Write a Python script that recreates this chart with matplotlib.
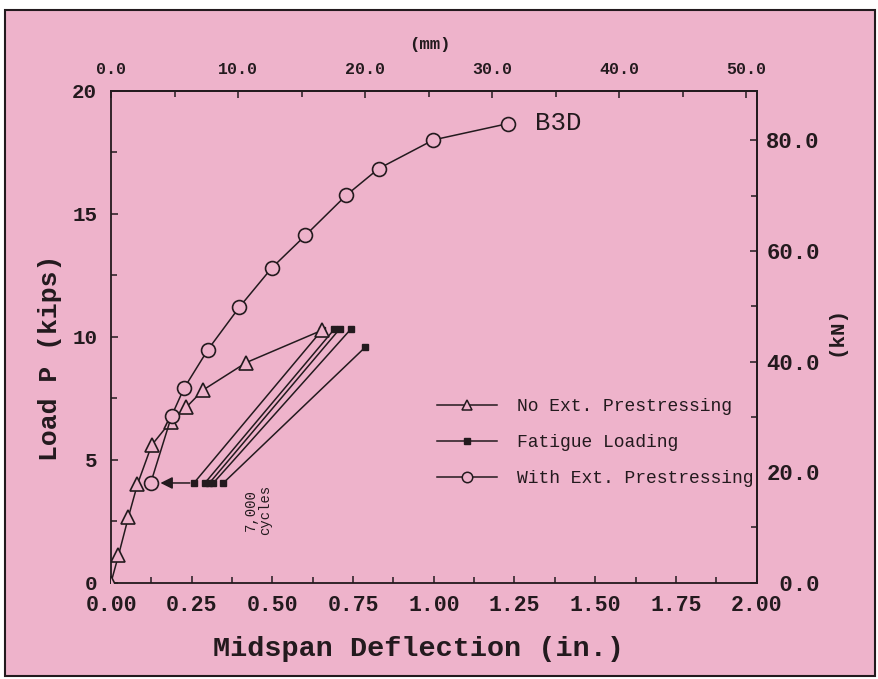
import matplotlib
matplotlib.use('Agg')
import matplotlib.pyplot as plt
from matplotlib.patches import Rectangle
from matplotlib.lines import Line2D
from matplotlib.ticker import MultipleLocator, FixedLocator, FormatStrFormatter

# data (in., kips)
no_ext_x = [0.0, 0.023, 0.054, 0.082, 0.126, 0.185, 0.233, 0.286, 0.419, 0.653]
no_ext_y = [0.0, 1.10, 2.67, 4.00, 5.59, 6.55, 7.13, 7.84, 8.95, 10.26]

with_ext_x = [0.123, 0.188, 0.226, 0.300, 0.398, 0.498, 0.602, 0.729, 0.829, 0.999, 1.229]
with_ext_y = [4.05, 6.79, 7.90, 9.47, 11.21, 12.80, 14.12, 15.76, 16.84, 18.01, 18.67]

fatigue_x_start = [0.257, 0.291, 0.305, 0.317, 0.348]
fatigue_y_start = [4.05, 4.05, 4.05, 4.05, 4.05]
fatigue_x_end = [0.653, 0.692, 0.708, 0.743, 0.788]
fatigue_y_end = [10.26, 10.31, 10.31, 10.31, 9.58]

mm_ticks = [0, 10, 20, 30, 40, 50]
mm_minor = [5, 15, 25, 35, 45]
kn_ticks = [0, 20, 40, 60, 80]
kn_minor = [10, 30, 50, 70]

KIP_TO_KN = 4.448
IN_TO_MM = 25.4

plt.rcParams['font.family'] = ['Liberation Mono', 'DejaVu Sans Mono']
plt.rcParams['font.weight'] = 'bold'
plt.rcParams['axes.labelweight'] = 'bold'

bg = '#eeb3cb'
ink = '#231a1e'

fig = plt.figure(figsize=(8.79, 6.79), dpi=100, facecolor='white')
fig.patches.append(Rectangle((0.006, 0.004), 0.99, 0.981, transform=fig.transFigure,
                             facecolor=bg, edgecolor=ink, lw=1.5, zorder=-10))
ax = fig.add_axes([0.1263, 0.1421, 0.7344, 0.7239])
ax.set_facecolor(bg)

ax.plot(no_ext_x, no_ext_y, '-^', color=ink, mfc=bg, mec=ink, ms=10, mew=1.2, lw=1.1, zorder=4)
for i in range(len(fatigue_x_start)):
    ax.plot([fatigue_x_start[i], fatigue_x_end[i]], [fatigue_y_start[i], fatigue_y_end[i]],
            '-s', color=ink, ms=4.5, lw=1.1, zorder=3)
ax.plot(with_ext_x, with_ext_y, '-o', color=ink, mfc=bg, mec=ink, ms=10, mew=1.2, lw=1.1, zorder=4)

ax.annotate('', xy=(with_ext_x[0], with_ext_y[0]), xytext=(fatigue_x_start[0], fatigue_y_start[0]),
            arrowprops=dict(arrowstyle='-|>', color=ink, lw=1.1, shrinkA=3, shrinkB=7,
                            mutation_scale=18))

ax.text(1.386, 18.69, 'B3D', fontsize=18.5, color=ink, ha='center', va='center', weight='normal')
ax.text(0.456, 2.94, '7,000\ncycles', fontsize=10, color=ink, ha='center', va='center',
        rotation=90, weight='normal', linespacing=1.0)

ax.set_xlim(0, 2.0)
ax.set_ylim(0, 20)
ax.xaxis.set_major_locator(MultipleLocator(0.25))
ax.xaxis.set_minor_locator(MultipleLocator(0.125))
ax.xaxis.set_major_formatter(FormatStrFormatter('%.2f'))
ax.yaxis.set_major_locator(MultipleLocator(5))
ax.yaxis.set_minor_locator(MultipleLocator(2.5))
ax.tick_params(which='both', direction='in', top=False, right=False, color=ink, width=1.1)
ax.tick_params(which='major', length=5)
ax.tick_params(which='minor', length=4)
ax.tick_params(axis='x', labelsize=15.5, pad=9, labelcolor=ink)
ax.tick_params(axis='y', labelsize=15, pad=10, labelcolor=ink)
for s in ax.spines.values():
    s.set_color(ink)
    s.set_linewidth(1.3)

ax.set_xlabel('Midspan Deflection (in.)', fontsize=20.5, color=ink, fontweight='bold')
ax.xaxis.set_label_coords(0.476, -0.1346)
ax.xaxis.label.set_verticalalignment('center')
ax.set_ylabel('Load P (kips)', fontsize=19, color=ink, fontweight='bold')
ax.yaxis.set_label_coords(-0.0945, 0.457)
ax.yaxis.label.set_verticalalignment('center')

secx = ax.secondary_xaxis('top', functions=(lambda x: x * IN_TO_MM, lambda x: x / IN_TO_MM))
secx.xaxis.set_major_locator(FixedLocator(mm_ticks))
secx.xaxis.set_minor_locator(FixedLocator(mm_minor))
secx.xaxis.set_major_formatter(FormatStrFormatter('%.1f'))
secx.tick_params(which='both', direction='in', color=ink, width=1.1, labelsize=12,
                 labelcolor=ink, pad=10)
secx.tick_params(which='major', length=5)
secx.tick_params(which='minor', length=4)
secx.set_xlabel('(mm)', fontsize=12.5, color=ink, fontweight='bold')
secx.xaxis.set_label_coords(0.494, 1.095, transform=ax.transAxes)
secx.xaxis.label.set_verticalalignment('center')

secy = ax.secondary_yaxis('right', functions=(lambda y: y * KIP_TO_KN, lambda y: y / KIP_TO_KN))
secy.yaxis.set_major_locator(FixedLocator(kn_ticks))
secy.yaxis.set_minor_locator(FixedLocator(kn_minor))
secy.yaxis.set_major_formatter(FormatStrFormatter('%4.1f'))
secy.tick_params(which='both', direction='in', color=ink, width=1.1, labelsize=16,
                 labelcolor=ink, pad=7)
secy.tick_params(which='major', length=5)
secy.tick_params(which='minor', length=4)
secy.set_ylabel('(kN)', fontsize=15, color=ink, rotation=90, fontweight='bold')
secy.yaxis.set_label_coords(1.123, 0.512, transform=ax.transAxes)
secy.yaxis.label.set_verticalalignment('center')
for s in list(secx.spines.values()) + list(secy.spines.values()):
    s.set_color(ink)
    s.set_linewidth(1.3)

handles = [
    Line2D([], [], color=ink, lw=1.1, marker='^', mfc=bg, mec=ink, ms=7, mew=1.1),
    Line2D([], [], color=ink, lw=1.1, marker='s', ms=4),
    Line2D([], [], color=ink, lw=1.1, marker='o', mfc=bg, mec=ink, ms=7.5, mew=1.1),
]
labels = ['No Ext. Prestressing', 'Fatigue Loading', 'With Ext. Prestressing']
leg = ax.legend(handles, labels, loc='upper left', bbox_to_anchor=(0.494, 0.39),
                borderaxespad=0, frameon=False, prop={'size': 13, 'weight': 'normal'},
                handlelength=3.3, handletextpad=1.1, labelspacing=1.05, labelcolor=ink)
leg.set_zorder(6)
leg.get_texts()[2].set_bbox(dict(facecolor=bg, edgecolor='none', pad=2))

fig.savefig('out.png', dpi=100, facecolor=fig.get_facecolor())
